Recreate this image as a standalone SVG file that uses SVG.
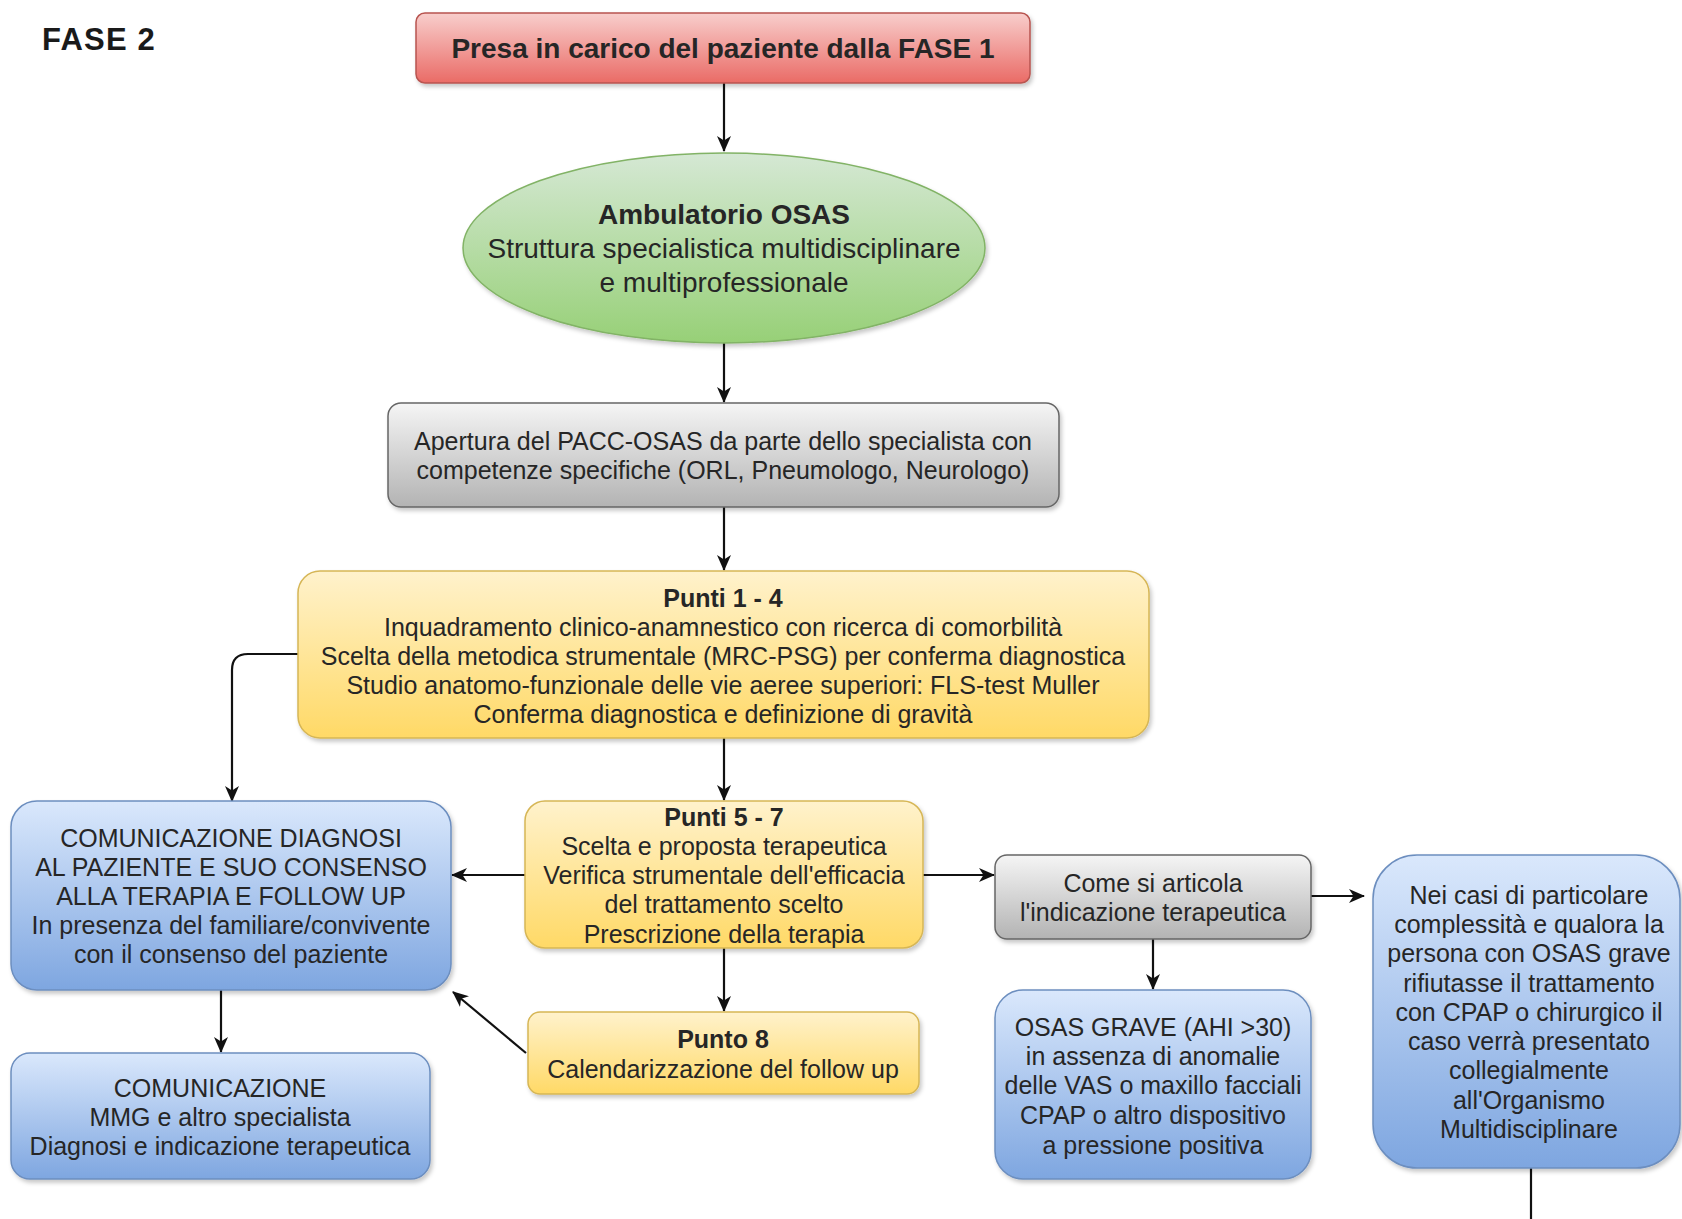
<svg xmlns="http://www.w3.org/2000/svg" width="1682" height="1219" viewBox="0 0 1682 1219">
<style>
  .t { font-family: "Liberation Sans", Arial, sans-serif; font-size: 25px; fill: #262626; text-anchor: middle; }
  .b { font-weight: bold; }
  .big { font-size: 28px; }
  .edge { fill: none; stroke: #111; stroke-width: 2.2; }
  .red { fill: url(#gRed); stroke: #b85450; stroke-width: 1.5; }
  .green { fill: url(#gGreen); stroke: #82b366; stroke-width: 1.5; }
  .gray { fill: url(#gGray); stroke: #666666; stroke-width: 1.5; }
  .yellow { fill: url(#gYellow); stroke: #d6b656; stroke-width: 1.5; }
  .blue { fill: url(#gBlue); stroke: #6c8ebf; stroke-width: 1.5; }
</style>
<defs>
  <linearGradient id="gRed" x1="0" y1="0" x2="0" y2="1"><stop offset="0" stop-color="#f8cecc"/><stop offset="1" stop-color="#ea6b66"/></linearGradient>
  <linearGradient id="gGreen" x1="0" y1="0" x2="0" y2="1"><stop offset="0" stop-color="#d5e8d4"/><stop offset="1" stop-color="#97d077"/></linearGradient>
  <linearGradient id="gGray" x1="0" y1="0" x2="0" y2="1"><stop offset="0" stop-color="#f5f5f5"/><stop offset="1" stop-color="#b3b3b3"/></linearGradient>
  <linearGradient id="gYellow" x1="0" y1="0" x2="0" y2="1"><stop offset="0" stop-color="#fff2cc"/><stop offset="1" stop-color="#ffd966"/></linearGradient>
  <linearGradient id="gBlue" x1="0" y1="0" x2="0" y2="1"><stop offset="0" stop-color="#dae8fc"/><stop offset="1" stop-color="#7ea6e0"/></linearGradient>
  <filter id="sh" x="-10%" y="-10%" width="120%" height="130%">
    <feDropShadow dx="2" dy="3" stdDeviation="2" flood-color="#000" flood-opacity="0.22"/>
  </filter>
  <marker id="arr" viewBox="0 0 16 14" refX="15" refY="7" markerWidth="16" markerHeight="14" markerUnits="userSpaceOnUse" orient="auto">
    <path d="M0,0 L16,7 L0,14 L4.5,7 z" fill="#111"/>
  </marker>
</defs>
<rect width="1682" height="1219" fill="#ffffff"/>

<g id="title">
  <text class="t b" x="42" y="50" style="font-size:31px;text-anchor:start;fill:#1a1a1a;letter-spacing:1.2px">FASE 2</text>
</g>

<g id="connectors">
  <path class="edge" d="M724,83 V151" marker-end="url(#arr)"/>
  <path class="edge" d="M724,343 V402" marker-end="url(#arr)"/>
  <path class="edge" d="M724,507 V570" marker-end="url(#arr)"/>
  <path class="edge" d="M724,738 V800" marker-end="url(#arr)"/>
  <path class="edge" d="M724,948 V1011" marker-end="url(#arr)"/>
  <path class="edge" d="M298,654 H248 Q232,654 232,670 V801" marker-end="url(#arr)"/>
  <path class="edge" d="M525,875 H452" marker-end="url(#arr)"/>
  <path class="edge" d="M923,875 H994" marker-end="url(#arr)"/>
  <path class="edge" d="M221,990 V1052" marker-end="url(#arr)"/>
  <path class="edge" d="M526,1053 L453,992" marker-end="url(#arr)"/>
  <path class="edge" d="M1311,896 H1364" marker-end="url(#arr)"/>
  <path class="edge" d="M1153,939 V989" marker-end="url(#arr)"/>
  <path class="edge" d="M1531,1168 V1219"/>
</g>

<g id="n-presa">
  <rect class="red" x="416" y="13" width="614" height="70" rx="9" filter="url(#sh)"/>
  <text class="t b big" x="723" y="58">Presa in carico del paziente dalla FASE 1</text>
</g>

<g id="n-ambulatorio">
  <ellipse class="green" cx="724" cy="248" rx="261" ry="95" filter="url(#sh)"/>
  <text class="t big" x="724" y="224"><tspan class="b">Ambulatorio OSAS</tspan></text>
  <text class="t big" x="724" y="258">Struttura specialistica multidisciplinare</text>
  <text class="t big" x="724" y="292">e multiprofessionale</text>
</g>

<g id="n-apertura">
  <rect class="gray" x="388" y="403" width="671" height="104" rx="13" filter="url(#sh)"/>
  <text class="t" x="723" y="450">Apertura del PACC-OSAS da parte dello specialista con</text>
  <text class="t" x="723" y="479">competenze specifiche (ORL, Pneumologo, Neurologo)</text>
</g>

<g id="n-punti14">
  <rect class="yellow" x="298" y="571" width="851" height="167" rx="22" filter="url(#sh)"/>
  <text class="t b" x="723" y="607">Punti 1 - 4</text>
  <text class="t" x="723" y="636">Inquadramento clinico-anamnestico con ricerca di comorbilità</text>
  <text class="t" x="723" y="665">Scelta della metodica strumentale (MRC-PSG) per conferma diagnostica</text>
  <text class="t" x="723" y="694">Studio anatomo-funzionale delle vie aeree superiori: FLS-test Muller</text>
  <text class="t" x="723" y="723">Conferma diagnostica e definizione di gravità</text>
</g>

<g id="n-punti57">
  <rect class="yellow" x="525" y="801" width="398" height="147" rx="20" filter="url(#sh)"/>
  <text class="t b" x="724" y="826">Punti 5 - 7</text>
  <text class="t" x="724" y="855">Scelta e proposta terapeutica</text>
  <text class="t" x="724" y="884">Verifica strumentale dell'efficacia</text>
  <text class="t" x="724" y="913">del trattamento scelto</text>
  <text class="t" x="724" y="943">Prescrizione della terapia</text>
</g>

<g id="n-comunicazione-diagnosi">
  <rect class="blue" x="11" y="801" width="440" height="189" rx="26" filter="url(#sh)"/>
  <text class="t" x="231" y="847">COMUNICAZIONE DIAGNOSI</text>
  <text class="t" x="231" y="876">AL PAZIENTE E SUO CONSENSO</text>
  <text class="t" x="231" y="905">ALLA TERAPIA E FOLLOW UP</text>
  <text class="t" x="231" y="934">In presenza del familiare/convivente</text>
  <text class="t" x="231" y="963">con il consenso del paziente</text>
</g>

<g id="n-comunicazione-mmg">
  <rect class="blue" x="11" y="1053" width="419" height="126" rx="19" filter="url(#sh)"/>
  <text class="t" x="220" y="1097">COMUNICAZIONE</text>
  <text class="t" x="220" y="1126">MMG e altro specialista</text>
  <text class="t" x="220" y="1155">Diagnosi e indicazione terapeutica</text>
</g>

<g id="n-punto8">
  <rect class="yellow" x="528" y="1012" width="391" height="82" rx="12" filter="url(#sh)"/>
  <text class="t b" x="723" y="1048">Punto 8</text>
  <text class="t" x="723" y="1078">Calendarizzazione del follow up</text>
</g>

<g id="n-come">
  <rect class="gray" x="995" y="855" width="316" height="84" rx="12" filter="url(#sh)"/>
  <text class="t" x="1153" y="892">Come si articola</text>
  <text class="t" x="1153" y="921">l'indicazione terapeutica</text>
</g>

<g id="n-osas-grave">
  <rect class="blue" x="995" y="990" width="316" height="189" rx="28" filter="url(#sh)"/>
  <text class="t" x="1153" y="1036">OSAS GRAVE (AHI &gt;30)</text>
  <text class="t" x="1153" y="1065">in assenza di anomalie</text>
  <text class="t" x="1153" y="1094">delle VAS o maxillo facciali</text>
  <text class="t" x="1153" y="1124">CPAP o altro dispositivo</text>
  <text class="t" x="1153" y="1154">a pressione positiva</text>
</g>

<g id="n-casi-complessi">
  <rect class="blue" x="1373" y="855" width="307" height="313" rx="44" filter="url(#sh)"/>
  <text class="t" x="1529" y="904">Nei casi di particolare</text>
  <text class="t" x="1529" y="933">complessità e qualora la</text>
  <text class="t" x="1529" y="962">persona con OSAS grave</text>
  <text class="t" x="1529" y="992">rifiutasse il trattamento</text>
  <text class="t" x="1529" y="1021">con CPAP o chirurgico il</text>
  <text class="t" x="1529" y="1050">caso verrà presentato</text>
  <text class="t" x="1529" y="1079">collegialmente</text>
  <text class="t" x="1529" y="1109">all'Organismo</text>
  <text class="t" x="1529" y="1138">Multidisciplinare</text>
</g>
</svg>
